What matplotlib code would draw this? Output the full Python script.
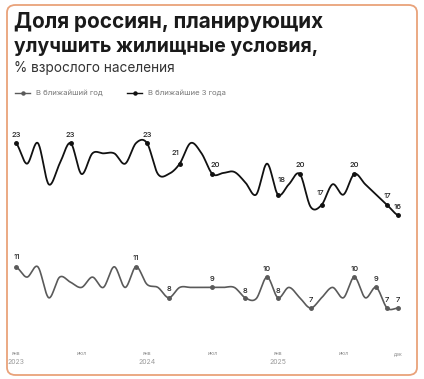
import numpy as np
import matplotlib
matplotlib.use('Agg')
import matplotlib.pyplot as plt
from matplotlib.patches import FancyBboxPatch
import matplotlib.transforms as mtransforms

# Monthly values, Jan 2023 .. Dec 2025 (36 months)
three_years = [23, 21, 23, 19, 21, 23, 20, 22, 22, 22, 21, 23,
               23, 20, 20, 21, 23, 22, 20, 20.1, 20.2, 19.2, 18, 21,
               18, 19, 20, 16.8, 17, 19, 18, 20, 19, 18, 17, 16]
next_year = [11, 10, 11, 8, 10, 9.5, 9, 10, 9, 11, 9, 11,
             9.3, 9, 8, 9, 9, 9, 9, 9, 9, 8, 7.9, 10,
             8, 9, 8, 7, 8, 9, 8, 10, 8, 9, 7, 7]

# months that carry a value label
three_years_labeled = [0, 5, 12, 15, 18, 24, 26, 28, 31, 34, 35]
next_year_labeled = [0, 11, 14, 18, 21, 23, 24, 27, 31, 33, 34, 35]

tick_months = [0, 6, 12, 18, 24, 30, 35]
tick_labels = ['янв', 'июл', 'янв', 'июл', 'янв', 'июл', 'дек']
year_months = [0, 12, 24]
year_labels = ['2023', '2024', '2025']

series_names = ['В ближайший год', 'В ближайшие 3 года']

# label offsets in pixels (dx, dy)
upper_off = {15: (-4, 11), 18: (3, 9), 24: (4, 15), 28: (-1, 12)}
lower_off = {0: (1, 10), 21: (0, 7), 24: (0, 7)}


def smooth(y, n=24):
    # Catmull-Rom spline through the monthly points
    y = np.asarray(y, float)
    p = np.concatenate([[y[0]], y, [y[-1]]])
    t = np.linspace(0, 1, n, endpoint=False)
    xs, ys = [], []
    for i in range(len(y) - 1):
        p0, p1, p2, p3 = p[i], p[i + 1], p[i + 2], p[i + 3]
        yy = 0.5 * (2 * p1 + (-p0 + p2) * t + (2 * p0 - 5 * p1 + 4 * p2 - p3) * t ** 2
                    + (-p0 + 3 * p1 - 3 * p2 + p3) * t ** 3)
        xs.append(i + t)
        ys.append(yy)
    xs.append([len(y) - 1])
    ys.append([y[-1]])
    return np.concatenate(xs), np.concatenate(ys)


plt.rcParams['font.family'] = ['Inter', 'DejaVu Sans']

fig = plt.figure(figsize=(4.24, 3.79), dpi=100)
fig.patch.set_facecolor('white')

# card border
card = FancyBboxPatch((7 / 424, 4 / 379), 410 / 424, 370 / 379,
                      boxstyle='round,pad=0,rounding_size=0.02',
                      transform=fig.transFigure, facecolor='none',
                      edgecolor='#E9A27A', linewidth=1.3, zorder=-1)
fig.patches.append(card)

fig.text(14 / 424, 1 - 28 / 379, 'Доля россиян, планирующих', fontsize=14.9,
         fontweight='bold', color='#1a1a1a', va='baseline')
fig.text(14 / 424, 1 - 52 / 379, 'улучшить жилищные условия,', fontsize=14.0,
         fontweight='bold', color='#1a1a1a', va='baseline')
fig.text(14 / 424, 1 - 72 / 379, '% взрослого населения', fontsize=9.8,
         color='#333333', va='baseline')

ax = fig.add_axes([10 / 424, 49 / 379, 394 / 424, 205 / 379])
ax.set_xlim(-0.55, 35.55)
ax.set_ylim(4.87, 24.75)
ax.patch.set_alpha(0)
for s in ax.spines.values():
    s.set_visible(False)
ax.set_yticks([])

months = np.arange(len(three_years))
colors = ['#5a5a5a', '#111111']
for vals, labeled, off, col, lw in [(next_year, next_year_labeled, lower_off, colors[0], 1.2),
                                    (three_years, three_years_labeled, upper_off, colors[1], 1.3)]:
    sx, sy = smooth(vals)
    ax.plot(sx, sy, color=col, lw=lw, solid_capstyle='round')
    lx = [months[i] for i in labeled]
    ly = [vals[i] for i in labeled]
    ax.plot(lx, ly, 'o', color=col, ms=2.5, zorder=3)
    for i in labeled:
        dx, dy = off.get(i, (0, 8.5))
        ax.annotate(f'{round(vals[i])}', (months[i], vals[i]), xytext=(dx, dy),
                    textcoords='offset pixels', ha='center', va='center',
                    fontsize=5.5, color='#222222', fontweight='medium')

ax.set_xticks(tick_months)
ax.set_xticklabels(tick_labels, fontsize=3.6, color='#8a8a8a')
ax.tick_params(axis='x', length=0, pad=15)
trans = mtransforms.blended_transform_factory(ax.transData, fig.transFigure)
for m, lab in zip(year_months, year_labels):
    ax.text(m, 1 - 362 / 379, lab, transform=trans, ha='center', va='center',
            fontsize=5.0, color='#9a9a9a')

# legend drawn by hand
for (x0, name, col) in [(15, series_names[0], colors[0]), (127, series_names[1], colors[1])]:
    ly = 1 - 93 / 379
    fig.add_artist(plt.Line2D([x0 / 424, (x0 + 15) / 424], [ly, ly], color=col,
                              lw=1.0, transform=fig.transFigure))
    fig.add_artist(plt.Line2D([(x0 + 7.5) / 424], [ly], marker='o', ms=2.2, color=col,
                              transform=fig.transFigure))
    fig.text((x0 + 21) / 424, ly, name, fontsize=5.6, color='#777777', va='center')

fig.savefig('out.png', dpi=100)
